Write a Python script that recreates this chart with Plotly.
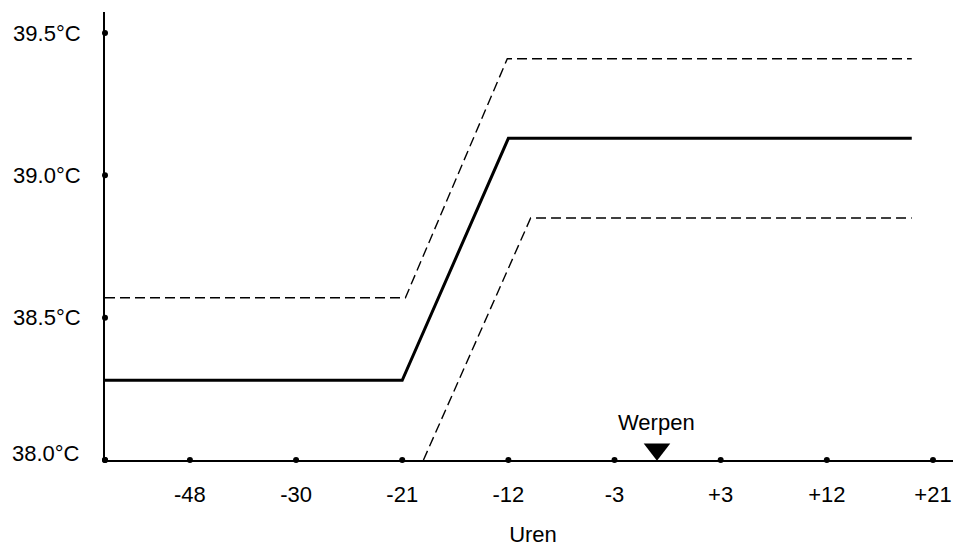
import plotly.graph_objects as go

# Data (x in tick-index units: 1 = "-48", ..., 8 = "+21")
tick_pos = [1, 2, 3, 4, 5, 6, 7, 8]
tick_labels = ["-48", "-30", "-21", "-12", "-3", "+3", "+12", "+21"]
y_ticks = [38.0, 38.5, 39.0, 39.5]
y_labels = ["38.0°C", "38.5°C", "39.0°C", "39.5°C"]

mean_x = [0.2, 3.0, 4.0, 7.8]
mean_y = [38.28, 38.28, 39.13, 39.13]
upper_x = [0.2, 3.03, 3.99, 7.8]
upper_y = [38.57, 38.57, 39.41, 39.41]
lower_x = [3.2, 4.21, 7.8]
lower_y = [38.0, 38.85, 38.85]

werpen_x = 5.4
x_origin = 0.2
x_max = 8.264
y_min, y_max = 38.0, 39.574

font = "Liberation Sans, Arial, Helvetica, sans-serif"

fig = go.Figure()
fig.add_trace(go.Scatter(x=upper_x, y=upper_y, mode="lines",
                         line=dict(color="black", width=1.4, dash="10px,5px"),
                         hoverinfo="skip", showlegend=False))
fig.add_trace(go.Scatter(x=lower_x, y=lower_y, mode="lines",
                         line=dict(color="black", width=1.4, dash="10px,5px"),
                         hoverinfo="skip", showlegend=False))
fig.add_trace(go.Scatter(x=mean_x, y=mean_y, mode="lines",
                         line=dict(color="black", width=3),
                         hoverinfo="skip", showlegend=False))
# tick dots on axes
fig.add_trace(go.Scatter(x=[x_origin] + tick_pos, y=[y_min] * (len(tick_pos) + 1),
                         mode="markers", marker=dict(color="black", size=6),
                         cliponaxis=False, hoverinfo="skip", showlegend=False))
fig.add_trace(go.Scatter(x=[x_origin] * len(y_ticks), y=y_ticks,
                         mode="markers", marker=dict(color="black", size=6),
                         cliponaxis=False, hoverinfo="skip", showlegend=False))
# Werpen marker
fig.add_trace(go.Scatter(x=[werpen_x], y=[38.038], mode="markers",
                         marker=dict(symbol="triangle-down", color="black", size=23,
                                     line=dict(width=0)),
                         cliponaxis=False, hoverinfo="skip", showlegend=False))
fig.add_annotation(x=werpen_x, y=38.133, text="Werpen", showarrow=False,
                   font=dict(family=font, size=22, color="black"))

# lowest y label sits slightly above its tick in the reference
fig.add_annotation(xref="paper", x=0, xanchor="right", xshift=-23,
                   y=y_ticks[0], yshift=7, text=y_labels[0], showarrow=False,
                   font=dict(family=font, size=22, color="black"))
axis_labels = [""] + y_labels[1:]

fig.update_layout(
    width=953, height=539,
    margin=dict(l=97, r=0, t=4, b=87),
    paper_bgcolor="white", plot_bgcolor="white",
    font=dict(family=font, size=22, color="black"),
    xaxis=dict(range=[x_origin, x_max], tickmode="array", tickvals=tick_pos,
               ticktext=tick_labels, showgrid=False, zeroline=False,
               showline=True, linecolor="black", linewidth=2, ticks="",
               ticklabelstandoff=14, automargin=False,
               title=dict(text="Uren", standoff=28, font=dict(size=22))),
    yaxis=dict(range=[y_min, y_max], tickmode="array", tickvals=y_ticks,
               ticktext=axis_labels, showgrid=False, zeroline=False,
               showline=True, linecolor="black", linewidth=2, ticks="",
               ticklabelstandoff=18, automargin=False),
)

fig.write_html("out.html")
